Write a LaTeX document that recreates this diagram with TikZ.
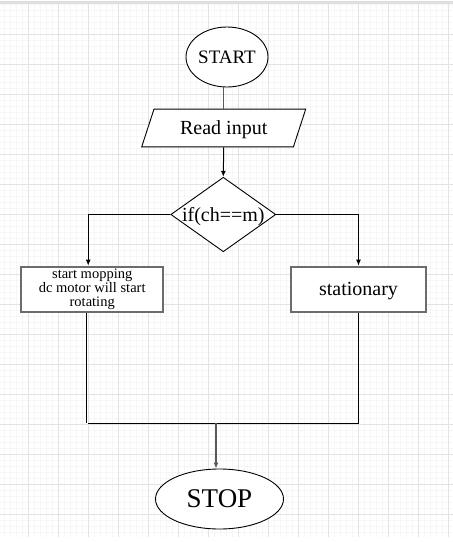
\documentclass[tikz,border=0pt]{standalone}
\usepackage{fontspec}
\setmainfont{Liberation Serif}
\usetikzlibrary{shapes.geometric, arrows.meta}
\colorlet{Minor}{gray!7}
\colorlet{Major}{gray!22}
\colorlet{Frame}{gray!85!black}
\newcommand\fsz[1]{\fontsize{#1}{#1}\selectfont}

\begin{document}
\begin{tikzpicture}[
  x={(1pt,0pt)},
  y={(0pt,-1pt)},
  inner sep=0pt,
  every node/.style={fill=white, text=black},
  oneline/.style={text depth=0pt},
  terminal/.style={ellipse, draw, line width=0.9pt, oneline},
  io/.style={trapezium, trapezium left angle=48.5, trapezium right angle=131.5,
    trapezium stretches body, draw, line width=0.9pt, oneline},
  decision/.style={diamond, draw, line width=0.9pt, oneline},
  process/.style={rectangle, draw=Frame, line width=2.2pt},
  link/.style={line width=1pt},
  arrow/.style={link, -{Latex[length=6pt,width=5pt]}}
  ]
\useasboundingbox (0,0) rectangle (453,542);
% grid paper
\foreach \x in {4,10,...,452}
  \draw[Minor, line width=0.6pt] (\x,4) -- (\x,537);
\foreach \y in {4,10,...,537}
  \draw[Minor, line width=0.6pt] (0,\y) -- (453,\y);
\foreach \x in {28,58,...,448}
  \draw[Major, line width=0.8pt] (\x,4) -- (\x,537);
\foreach \y in {34,64,...,514}
  \draw[Major, line width=0.8pt] (0,\y) -- (453,\y);
\fill[gray!25] (0,1) rectangle (453,4);
% flowchart
\node[terminal, minimum width=82pt, minimum height=60pt] (start) at (227,57)
  {\fsz{19}START};
\node[io, minimum width=164pt, minimum height=37.7pt] (read) at (223.7,128)
  {\fsz{20}Read input};
\node[decision, minimum width=105pt, minimum height=74.5pt] (cond) at (223.3,214.5)
  {\makebox[0pt]{\fsz{20}if(ch==m)}};
\node[process, minimum width=142pt, minimum height=45pt, align=center,
  font=\fontsize{14.5}{14.3}\selectfont] (mop) at (92.2,289.2)
  {start mopping\\dc motor will start\\rotating};
\node[process, oneline, minimum width=135pt, minimum height=45pt] (stat) at (358.5,289.2)
  {\fsz{20}stationary};
\node[terminal, minimum width=128pt, minimum height=60pt] (stop) at (219.5,499)
  {\fsz{27}STOP};
\coordinate (left end) at (86,423);
\coordinate (right end) at (358.5,423);
\coordinate (merge) at (216,423);

\draw[link, gray!70!black] (start.south -| read.north) -- (read.north);
\draw[arrow] (read.south) -- (cond.north);
\draw[arrow] (cond.west) -| ([xshift=-4pt]mop.north);
\draw[arrow] (cond.east) -| (stat.north);
\draw[link] (mop.south -| left end) -- (left end);
\draw[link] ([xshift=2pt]left end) -- (right end) -- (stat.south);
\draw[arrow, gray!70!black, line width=1.5pt] (merge) -- (merge |- stop.north);
\end{tikzpicture}
\end{document}
